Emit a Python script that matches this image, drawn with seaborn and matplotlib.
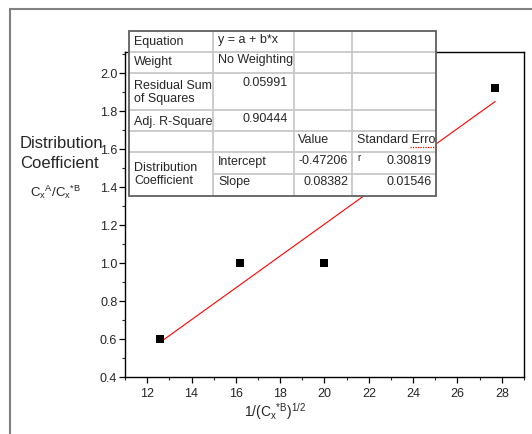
import matplotlib
matplotlib.use("Agg")
import matplotlib.pyplot as plt
import seaborn as sns
import numpy as np
import pandas as pd
from matplotlib.lines import Line2D
from matplotlib.patches import Rectangle
from matplotlib.ticker import MultipleLocator

# data
x_vals = [12.6, 16.2, 20.0, 27.7]
y_vals = [0.60, 1.00, 1.00, 1.92]

# fit results (from the report table)
equation = "y = a + b*x"
weight = "No Weighting"
rss = 0.05991
adj_r2 = 0.90444
intercept = -0.47206
slope = 0.08382
se_intercept = 0.30819
se_slope = 0.01546

x_ticks = [12, 14, 16, 18, 20, 22, 24, 26, 28]
y_ticks = [0.4, 0.6, 0.8, 1.0, 1.2, 1.4, 1.6, 1.8, 2.0]

sns.set_style("ticks")
plt.rcParams["font.family"] = ["Liberation Sans", "DejaVu Sans"]
plt.rcParams["mathtext.fontset"] = "custom"
plt.rcParams["mathtext.rm"] = "Liberation Sans"
plt.rcParams["mathtext.it"] = "Liberation Sans"

W, H = 532, 435
fig = plt.figure(figsize=(W / 100, H / 100), dpi=100)
fig.patch.set_facecolor("white")


def fx(x):
    return x / W


def fy(y):
    return 1 - y / H


# outer page frame
fig.add_artist(Line2D([fx(10), fx(10)], [fy(10), 0], color="#808080", lw=1.5))
fig.add_artist(Line2D([fx(10), 1], [fy(10), fy(10)], color="#808080", lw=1.5))

ax = fig.add_axes([fx(125), fy(378), (524 - 125) / W, (378 - 53) / H])

df = pd.DataFrame({"x": x_vals, "y": y_vals})
fit_x = np.array([min(x_vals), max(x_vals)])
fit = pd.DataFrame({"x": fit_x, "y": intercept + slope * fit_x})

sns.lineplot(data=fit, x="x", y="y", color="red", lw=0.8, ax=ax)
sns.scatterplot(data=df, x="x", y="y", marker="s", s=34, color="black",
                linewidth=0, ax=ax, zorder=3)

ax.set_xlim(11, 29)
ax.set_ylim(0.4, 2.11)
ax.set_xticks(x_ticks)
ax.set_yticks(y_ticks)
ax.set_yticklabels([f"{v:.1f}" for v in y_ticks])
ax.xaxis.set_minor_locator(MultipleLocator(1))
ax.yaxis.set_minor_locator(MultipleLocator(0.1))
ax.tick_params(which="major", direction="out", length=4, width=0.9,
               labelsize=9, color="black")
ax.tick_params(axis="y", which="major", pad=1.5)
ax.tick_params(axis="x", which="major", pad=3)
ax.tick_params(which="minor", direction="out", length=2.2, width=0.8)
ax.set_xlabel("")
ax.set_ylabel("")
for s in ax.spines.values():
    s.set_visible(True)
    s.set_color("black")
    s.set_linewidth(1.0)

# axis titles
fig.text(fx(20), fy(144), "Distribution", fontsize=12, va="center", ha="left")
fig.text(fx(20), fy(164), "Coefficient", fontsize=12, va="center", ha="left")
fig.text(fx(30), fy(192), r"$\mathregular{C_{x}{}^{A}/C_{x}{}^{*B}}$",
         fontsize=9.5, va="center", ha="left")
fig.text(fx(275), fy(412), r"$\mathregular{1/(C_{x}{}^{*B})^{1/2}}$",
         fontsize=10, va="center", ha="center")

# results table
cx = [129, 213, 294, 352, 436]
ry = [31.7, 53.3, 74.3, 111, 132.3, 153.3, 175, 197]

fig.add_artist(Rectangle((fx(cx[0]), fy(ry[-1])), (cx[-1] - cx[0]) / W,
                         (ry[-1] - ry[0]) / H, transform=fig.transFigure,
                         facecolor="white", edgecolor="none", zorder=5))
grid_c = "#c8c8c8"
for x in cx[1:-1]:
    fig.add_artist(Line2D([fx(x), fx(x)], [fy(ry[0]), fy(ry[-1])],
                          color=grid_c, lw=1.3, zorder=6))
for i, y in enumerate(ry[1:-1], start=1):
    x0 = cx[1] if i == 6 else cx[0]
    fig.add_artist(Line2D([fx(x0), fx(cx[-1])], [fy(y), fy(y)],
                          color=grid_c, lw=1.3, zorder=6))
fig.add_artist(Rectangle((fx(cx[0]), fy(ry[-1])), (cx[-1] - cx[0]) / W,
                         (ry[-1] - ry[0]) / H, transform=fig.transFigure,
                         facecolor="none", edgecolor="#606060", lw=1.3,
                         zorder=7))

cells = [
    (134, 42, "Equation", "left"),
    (134, 62, "Weight", "left"),
    (134, 86, "Residual Sum", "left"),
    (134, 99, "of Squares", "left"),
    (134, 121.5, "Adj. R-Square", "left"),
    (134, 168, "Distribution", "left"),
    (134, 181, "Coefficient", "left"),
    (218, 40, equation, "left"),
    (218, 60, weight, "left"),
    (288, 83, f"{rss:.5f}", "right"),
    (288, 119, f"{adj_r2:.5f}", "right"),
    (218, 161.5, "Intercept", "left"),
    (218, 182, "Slope", "left"),
    (298, 140, "Value", "left"),
    (348, 161.5, f"{intercept:.5f}", "right"),
    (348, 182, f"{slope:.5f}", "right"),
    (357, 140, "Standard Erro", "left"),
    (432, 161.5, f"{se_intercept:.5f}", "right"),
    (432, 182, f"{se_slope:.5f}", "right"),
]
for x, y, t, ha in cells:
    fig.text(fx(x), fy(y), t, fontsize=9, ha=ha, va="center", zorder=8)
fig.text(fx(357.5), fy(158), "r", fontsize=7, ha="left", va="center",
         zorder=8)
fig.add_artist(Line2D([fx(410), fx(436)], [fy(147.5), fy(147.5)], color="red",
                      lw=0.9, ls=(0, (1, 1)), zorder=8))

fig.savefig("out.png", dpi=100)
